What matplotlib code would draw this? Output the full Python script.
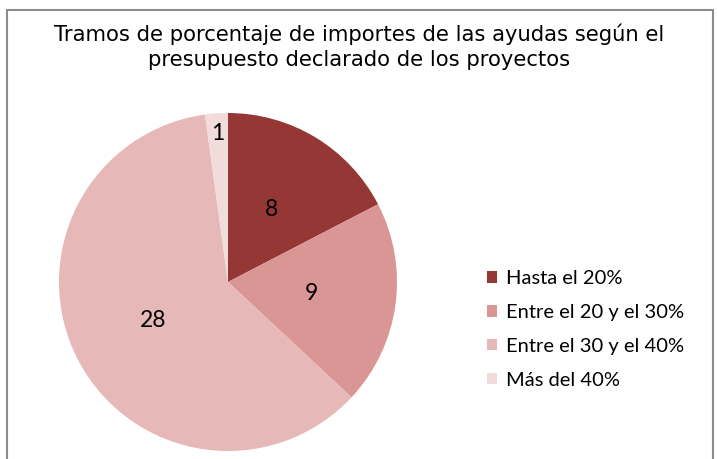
import numpy as np
import matplotlib.pyplot as plt
from matplotlib.patches import Rectangle

title = "Tramos de porcentaje de importes de las ayudas según el\npresupuesto declarado de los proyectos"
categories = ["Hasta el 20%", "Entre el 20 y el 30%", "Entre el 30 y el 40%", "Más del 40%"]
values = [8, 9, 28, 1]
colors = ["#953735", "#D99694", "#E6B9B8", "#F2DCDB"]

fig = plt.figure(figsize=(7.17, 4.59), dpi=100)
W, H = 717, 459

# chart border (bottom runs off the image)
fig.patches.append(Rectangle((7 / W, -0.05), 706 / W, (459 - 10) / H + 0.05,
                             transform=fig.transFigure, fill=False,
                             edgecolor="#8c8c8c", linewidth=1.5))

fig.text(359 / W, 1 - 47 / H, title, ha="center", va="center",
         fontsize=15.2, family="DejaVu Sans", linespacing=1.3)

cx, cy, r = 228, 459 - 282, 169
ax = fig.add_axes([(cx - r) / W, (cy - r) / H, 2 * r / W, 2 * r / H])
wedges, _ = ax.pie(values, colors=colors, startangle=90, counterclock=False,
                   radius=1, wedgeprops=dict(linewidth=0))
ax.set_xlim(-1, 1)
ax.set_ylim(-1, 1)
ax.set_aspect("equal")

# data labels at the middle of each wedge
dist = [0.5, 0.5, 0.5, 0.88]
for w, v, d in zip(wedges, values, dist):
    ang = np.deg2rad((w.theta1 + w.theta2) / 2)
    ax.text(d * np.cos(ang), d * np.sin(ang), str(v), ha="center", va="center",
            fontsize=16.5, family="Lato")

leg = fig.legend(wedges, categories, loc="upper left",
                 bbox_to_anchor=(487 / W, 1 - 270 / H), frameon=False,
                 borderpad=0, borderaxespad=0,
                 prop=dict(family="Lato", size=14.5), handlelength=0.5,
                 handleheight=0.5, handletextpad=0.45, labelspacing=0.84)

fig.savefig("out.png", dpi=100)
